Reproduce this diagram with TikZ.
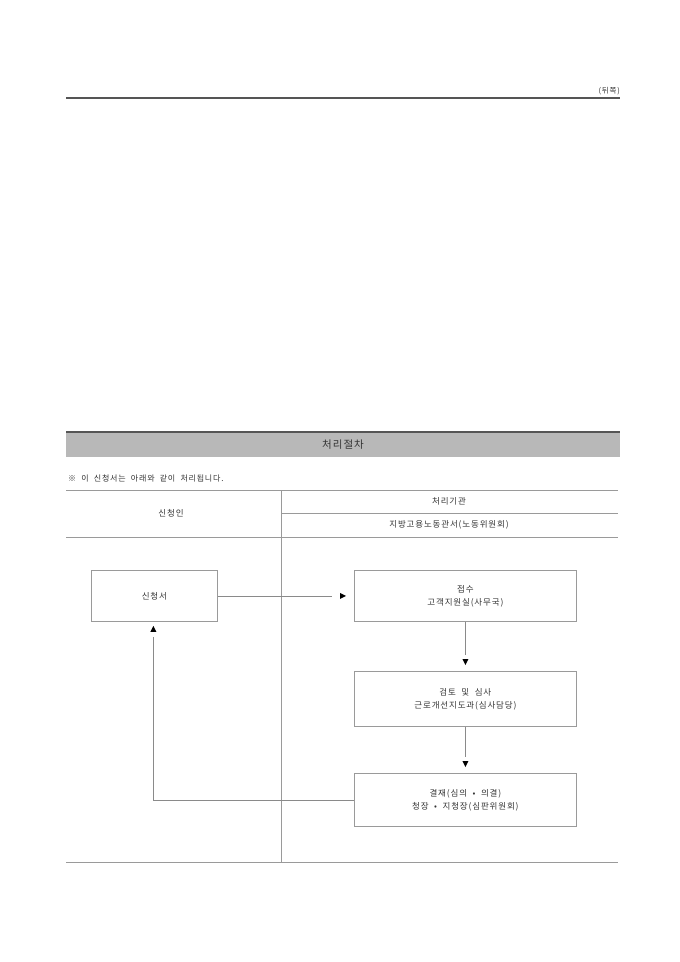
\documentclass[tikz,border=0pt]{standalone}
\usepackage{fontspec}
\setmainfont[LetterSpace=10,WordSpace=2]{Noto Sans CJK KR}
\usetikzlibrary{calc}
\definecolor{txt}{HTML}{333333}
\definecolor{ln}{HTML}{8A8A8A}
\definecolor{bx}{HTML}{9A9A9A}
\definecolor{hd}{HTML}{B8B8B8}
\definecolor{dk}{HTML}{555555}
\begin{document}
\begin{tikzpicture}[x=1pt,y=-1pt,
  lbl/.style={text=txt,font=\fontsize{8.5}{13}\selectfont,inner sep=0pt,align=center},
  box/.style={draw=bx,line width=0.8pt,text=txt,font=\fontsize{8.5}{13}\selectfont,align=center,inner sep=0pt,anchor=north west,minimum width=222pt},
  rule/.style={draw=bx,line width=0.7pt},
  thick rule/.style={draw=dk,line width=2pt},
  conn/.style={draw=ln,line width=0.6pt},
  tipfill/.style={fill=black}]
\useasboundingbox (0,0) rectangle (680,962);
% top
\node[lbl,anchor=east,font=\fontsize{7.5}{9}\selectfont] (back) at (620,91) {(뒤쪽)};
\coordinate (t1) at (66,98); \coordinate (t2) at (620,98);
\draw[thick rule] (t1) -- (t2);
% header band
\fill[hd] (66,432) rectangle (620,457);
\coordinate (h1) at (66,431.5); \coordinate (h2) at (620,431.5);
\draw[thick rule] (h1) -- (h2);
\node[lbl,font=\fontsize{10.5}{12}\selectfont] (head) at (343,444.5) {처리절차};
\node[lbl,anchor=west,font=\fontsize{8}{10}\selectfont] (note) at (68,478) {※ 이 신청서는 아래와 같이 처리됩니다.};
% table
\coordinate (a1) at (66,490); \coordinate (a2) at (618,490);
\coordinate (b1) at (281,513); \coordinate (b2) at (618,513);
\coordinate (c1) at (66,537); \coordinate (c2) at (618,537);
\coordinate (d1) at (66,862); \coordinate (d2) at (618,862);
\coordinate (v1) at (281,490); \coordinate (v2) at (281,862);
\draw[rule] (a1) -- (a2);
\draw[rule] (b1) -- (b2);
\draw[rule] (c1) -- (c2);
\draw[rule] (d1) -- (d2);
\draw[rule] (v1) -- (v2);
\node[lbl] (applicant) at (171,513) {신청인};
\node[lbl] (org) at (449,501.5) {처리기관};
\node[lbl] (office) at (449,525) {지방고용노동관서(노동위원회)};
% boxes
\node[box,minimum width=126pt,minimum height=51pt] (s) at (91,570) {신청서};
\node[box,minimum height=51pt] (j) at (354,570) {접수\\고객지원실(사무국)};
\node[box,minimum height=55pt] (k) at (354,671) {검토 및 심사\\근로개선지도과(심사담당)};
\node[box,minimum height=53pt] (r) at (354,773) {결재(심의 • 의결)\\청장 • 지청장(심판위원회)};
% connector s -> j
\coordinate (e1) at ($(j.west)+(-22,0)$);
\draw[conn] (s.east) -- (e1);
\fill[tipfill] ($(j.west)+(-14,-3)$) -- ($(j.west)+(-8,0)$) -- ($(j.west)+(-14,3)$) -- cycle;
% j -> k
\coordinate (e2) at ($(k.north)+(0,-16)$);
\draw[conn] (j.south) -- (e2);
\fill[tipfill] ($(k.north)+(-3,-12)$) -- ($(k.north)+(3,-12)$) -- ($(k.north)+(0,-6)$) -- cycle;
% k -> r
\coordinate (e3) at ($(r.north)+(0,-16)$);
\draw[conn] (k.south) -- (e3);
\fill[tipfill] ($(r.north)+(-3,-12)$) -- ($(r.north)+(3,-12)$) -- ($(r.north)+(0,-6)$) -- cycle;
% r -> s
\coordinate (e4) at ($(s.south)+(-1,15)$);
\draw[conn] (r.west) -| (e4);
\fill[tipfill] ($(s.south)+(-4,10)$) -- ($(s.south)+(2,10)$) -- ($(s.south)+(-1,4)$) -- cycle;
\end{tikzpicture}
\end{document}
